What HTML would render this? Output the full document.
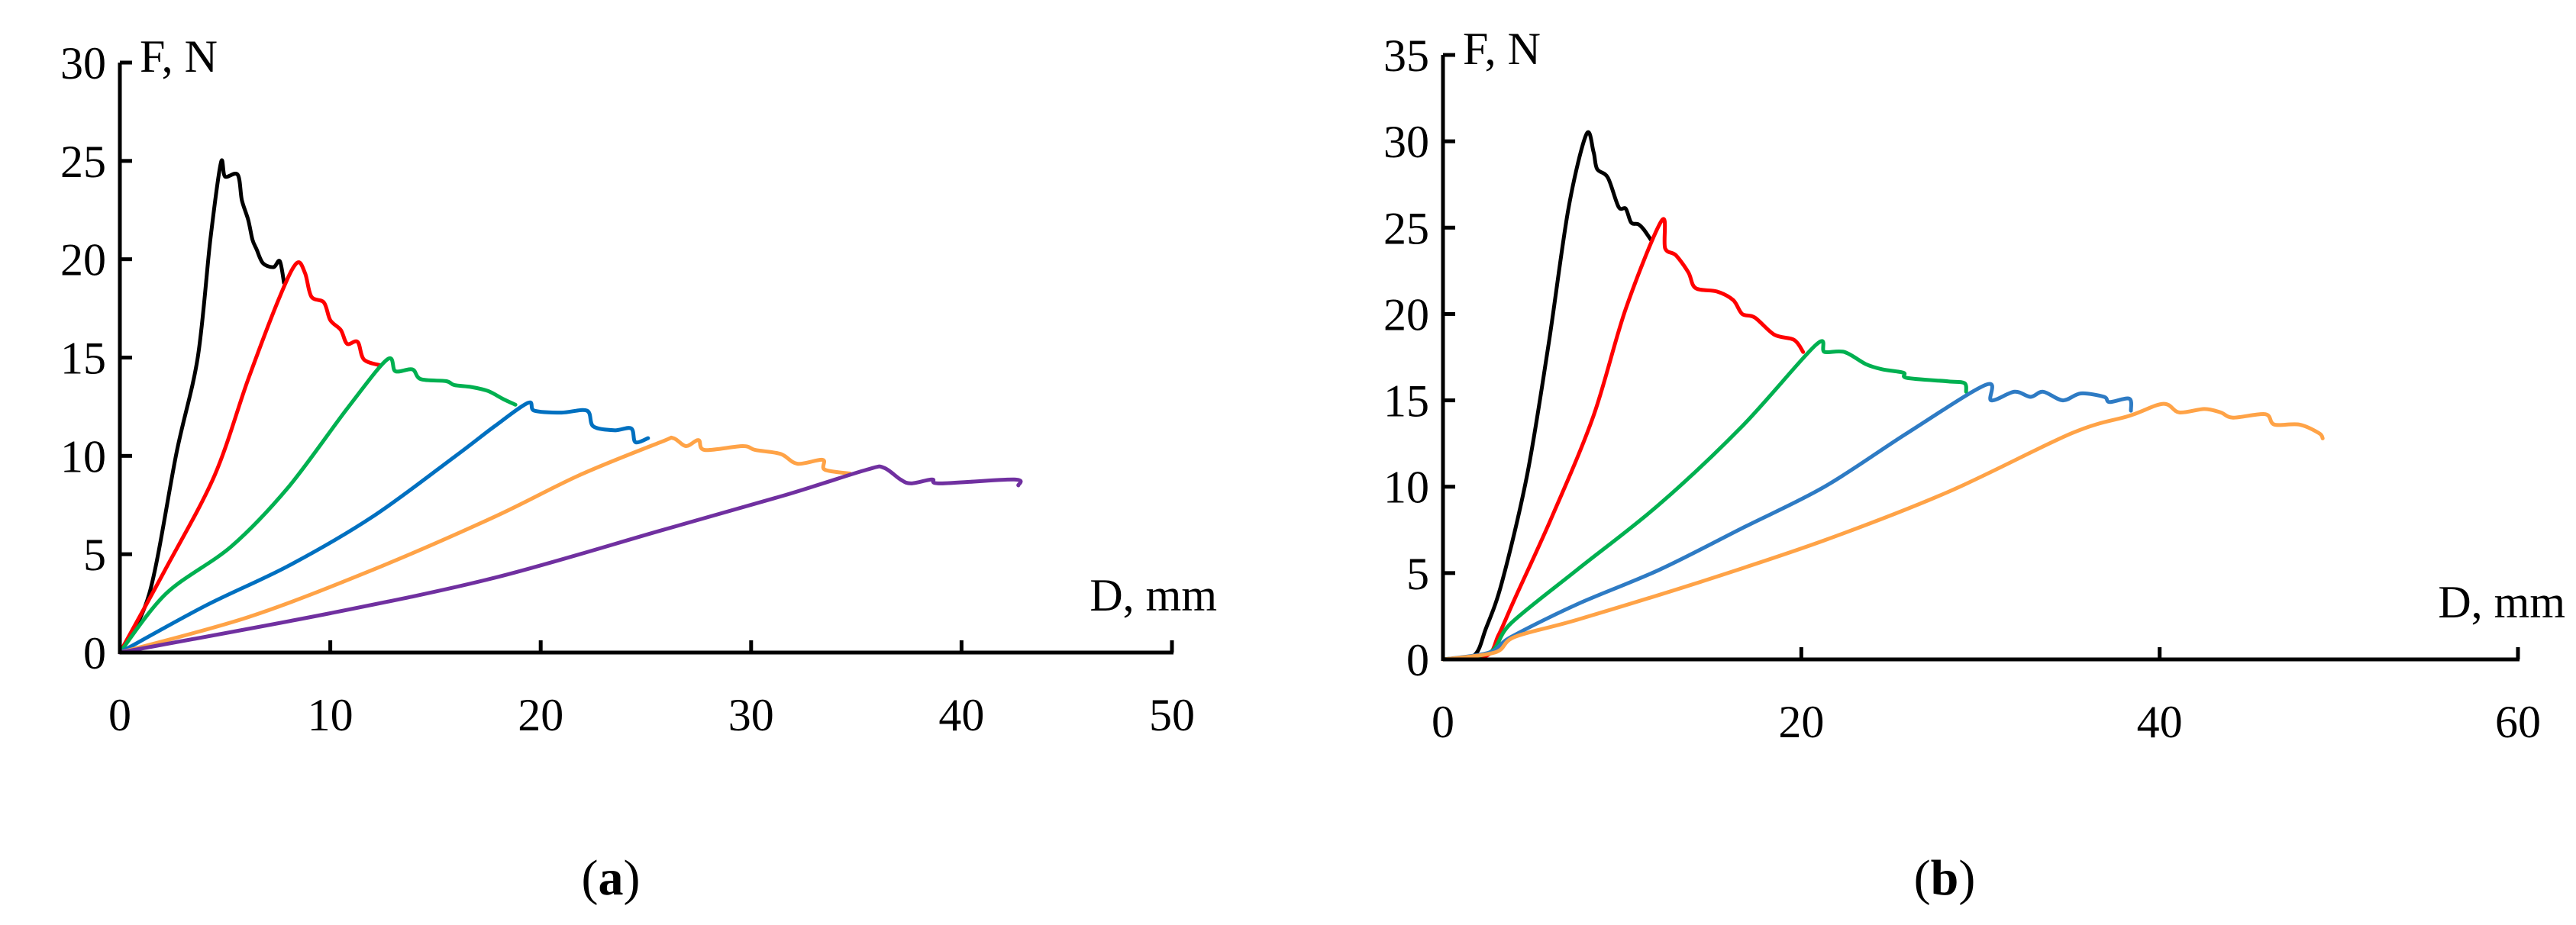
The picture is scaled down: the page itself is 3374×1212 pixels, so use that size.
<!DOCTYPE html>
<html><head><meta charset="utf-8">
<style>
html,body{margin:0;padding:0;background:#fff;}
svg{display:block;}
text{font-family:"Liberation Serif",serif;fill:#000;}
</style></head>
<body>
<svg id="svg" width="3374" height="1212" viewBox="0 0 3374 1212" xmlns="http://www.w3.org/2000/svg">
<g id="chartA"></g>
<g id="chartB"></g>
</svg>
<script>
// ---- Chart (a) data ----
const aXTicks = [0,10,20,30,40,50];
const aYTicks = [0,5,10,15,20,25,30];
const aBlack = [[0,0],[1.4,3.0],[2.7,10.2],[3.7,15],[4.3,21],[4.8,24.9],[5.0,24.2],[5.6,24.3],[5.8,23],[6.1,22],[6.3,21],[6.5,20.5],[6.8,19.8],[7.3,19.6],[7.6,19.9],[7.8,18.8]];
const aRed = [[0,0],[2.2,4.3],[4.5,9.0],[6.1,13.9],[7.6,18.1],[8.4,19.8],[8.8,19.3],[9.1,18.1],[9.7,17.8],[10.0,16.9],[10.5,16.4],[10.8,15.7],[11.3,15.8],[11.6,14.9],[12.4,14.6]];
const aGreen = [[0,0],[2.2,3.0],[5.3,5.4],[8.0,8.4],[10.8,12.4],[12.7,14.9],[13.1,14.3],[13.9,14.4],[14.3,13.9],[15.5,13.8],[15.9,13.6],[16.7,13.5],[17.5,13.3],[18.2,12.9],[18.8,12.6]];
const aBlue = [[0,0],[4.1,2.4],[8.0,4.4],[12.0,6.9],[15.9,9.95],[17.8,11.5],[19.4,12.7],[19.7,12.3],[21.0,12.2],[22.2,12.3],[22.5,11.5],[23.5,11.3],[24.3,11.4],[24.5,10.7],[25.1,10.9]];
const aOrange = [[0,0],[6.1,1.8],[12.0,4.2],[17.8,6.9],[21.8,9.0],[25.7,10.7],[26.3,10.9],[26.9,10.5],[27.5,10.8],[27.8,10.3],[29.6,10.5],[30.2,10.3],[31.4,10.1],[32.2,9.6],[33.4,9.8],[33.5,9.3],[34.7,9.1]];
const aPurple = [[0,0],[10.0,2.0],[17.8,3.8],[25.7,6.2],[31.6,8.0],[35.5,9.3],[36.3,9.4],[37.1,8.8],[37.6,8.6],[38.6,8.8],[39.0,8.6],[42.5,8.8],[42.7,8.5]];
// ---- Chart (b) data ----
const bXTicks = [0,20,40,60];
const bYTicks = [0,5,10,15,20,25,30,35];
const bBlack = [[0,0],[1.7,0.2],[2.4,1.8],[3.3,4.5],[4.7,10.7],[5.9,18.3],[7.0,26.1],[8.0,30.4],[8.4,29.4],[8.6,28.4],[9.2,27.9],[9.8,26.2],[10.2,26.1],[10.5,25.3],[10.9,25.2],[11.2,24.9],[11.6,24.3]];
const bRed = [[0,0],[2.4,0.2],[3.1,1.4],[4.0,3.5],[6.1,8.3],[8.4,14.1],[10.2,20.3],[12.2,25.4],[12.4,23.8],[13.0,23.4],[13.7,22.4],[14.1,21.5],[15.3,21.3],[16.2,20.8],[16.7,20.0],[17.4,19.8],[18.5,18.8],[19.6,18.5],[20.1,17.8]];
const bGreen = [[0,0],[2.6,0.4],[3.8,2.1],[7.5,5.2],[12.1,9.0],[16.7,13.5],[20.8,18.2],[21.3,17.8],[22.4,17.8],[23.6,17.1],[24.5,16.8],[25.7,16.6],[25.9,16.3],[28.2,16.1],[29.1,16.0],[29.2,15.5]];
const bBlue = [[0,0],[2.6,0.4],[3.8,1.3],[7.5,3.2],[12.1,5.2],[16.7,7.6],[21.3,10.0],[25.9,13.1],[30.3,15.9],[30.6,15.0],[31.9,15.5],[32.8,15.2],[33.5,15.5],[34.6,15.0],[35.6,15.4],[36.9,15.2],[37.2,14.9],[38.3,15.1],[38.4,14.4]];
const bOrange = [[0,0],[2.9,0.4],[4.0,1.3],[7.5,2.3],[14.4,4.5],[21.3,6.9],[28.2,9.7],[35.1,13.1],[38.3,14.1],[40.2,14.8],[41.1,14.3],[42.5,14.5],[43.4,14.3],[44.1,14.0],[45.9,14.2],[46.4,13.6],[47.8,13.6],[48.9,13.1],[49.1,12.8]];

const NS = "http://www.w3.org/2000/svg";
function mk(parent, tag, attrs){
  const el = document.createElementNS(NS, tag);
  for (const k in attrs) el.setAttribute(k, attrs[k]);
  parent.appendChild(el);
  return el;
}
function smoothPath(pts){
  let d = 'M'+pts[0][0].toFixed(1)+' '+pts[0][1].toFixed(1);
  for (let i=0;i<pts.length-1;i++){
    const p0 = pts[Math.max(0,i-1)], p1 = pts[i], p2 = pts[i+1], p3 = pts[Math.min(pts.length-1,i+2)];
    const t = 0.16;
    const c1 = [p1[0]+(p2[0]-p0[0])*t, p1[1]+(p2[1]-p0[1])*t];
    const c2 = [p2[0]-(p3[0]-p1[0])*t, p2[1]-(p3[1]-p1[1])*t];
    d += ' C'+c1[0].toFixed(1)+' '+c1[1].toFixed(1)+' '+c2[0].toFixed(1)+' '+c2[1].toFixed(1)+' '+p2[0].toFixed(1)+' '+p2[1].toFixed(1);
  }
  return d;
}
function drawChart(g, cfg){
  const sx = v => cfg.x0 + v / cfg.xMax * (cfg.x1 - cfg.x0);
  const sy = v => cfg.y0 - v / cfg.yMax * (cfg.y0 - cfg.y1);
  cfg.series.forEach(s => {
    const pts = s.data.map(p => [sx(p[0]), sy(p[1])]);
    const p = mk(g,'path',{d:smoothPath(pts),fill:'none',stroke:s.color,'stroke-width':5,'stroke-linejoin':'round','stroke-linecap':'round'});
    
    
  });
  const ya = mk(g,'line',{x1:sx(0),y1:sy(0)+2,x2:sx(0),y2:sy(cfg.yMax),stroke:'#000','stroke-width':5});
  
  
  const xa = mk(g,'line',{x1:sx(0),y1:sy(0),x2:sx(cfg.xMax)+2,y2:sy(0),stroke:'#000','stroke-width':5});
  
  
  cfg.yTicks.forEach(v => {
    const t = mk(g,'line',{x1:sx(0),y1:sy(v),x2:sx(0)+16,y2:sy(v),stroke:'#000','stroke-width':5});
    
    
    const lb = mk(g,'text',{x:sx(0)-18,y:sy(v)+21,'font-size':60,'text-anchor':'end'});
    lb.textContent = v;
    
    
  });
  cfg.xTicks.forEach(v => {
    if (v>0){
      const t = mk(g,'line',{x1:sx(v),y1:sy(0),x2:sx(v),y2:sy(0)-16,stroke:'#000','stroke-width':5});
      
      
    }
    const lb = mk(g,'text',{x:sx(v),y:cfg.y0+102,'font-size':60,'text-anchor':'middle'});
    lb.textContent = v;
    
    
  });
  const yt = mk(g,'text',{x:sx(0)+26,y:sy(cfg.yMax)+12,'font-size':60});
  yt.textContent = 'F, N';
  
  
  const xt = mk(g,'text',{x:cfg.xtX,y:cfg.y0-55,'font-size':60,'text-anchor':'end'});
  xt.textContent = 'D, mm';
  
  
  const cap = mk(g,'text',{x:cfg.capX,y:1172,'font-size':66,'text-anchor':'middle'});
  cap.innerHTML = '(<tspan font-weight="bold">'+cfg.cap+'</tspan>)';
  
  
}
drawChart(document.getElementById('chartA'), {
  x0:157, x1:1535, xMax:50, y0:855, y1:82, yMax:30, xTicks:aXTicks, yTicks:aYTicks,
  xtX:1594, capX:800, cap:'a',
  series:[
    {name:'series-black',color:'#000000',data:aBlack},
    {name:'series-red',color:'#ff0000',data:aRed},
    {name:'series-green',color:'#00b050',data:aGreen},
    {name:'series-blue',color:'#0070c0',data:aBlue},
    {name:'series-orange',color:'#ffa347',data:aOrange},
    {name:'series-purple',color:'#7030a0',data:aPurple}
  ]
});
drawChart(document.getElementById('chartB'), {
  x0:1890, x1:3298, xMax:60, y0:864, y1:72, yMax:35, xTicks:bXTicks, yTicks:bYTicks,
  xtX:3360, capX:2547, cap:'b',
  series:[
    {name:'series-black',color:'#000000',data:bBlack},
    {name:'series-red',color:'#ff0000',data:bRed},
    {name:'series-green',color:'#00b050',data:bGreen},
    {name:'series-blue',color:'#2e7bc4',data:bBlue},
    {name:'series-orange',color:'#ffa347',data:bOrange}
  ]
});
</script>
</body></html>
